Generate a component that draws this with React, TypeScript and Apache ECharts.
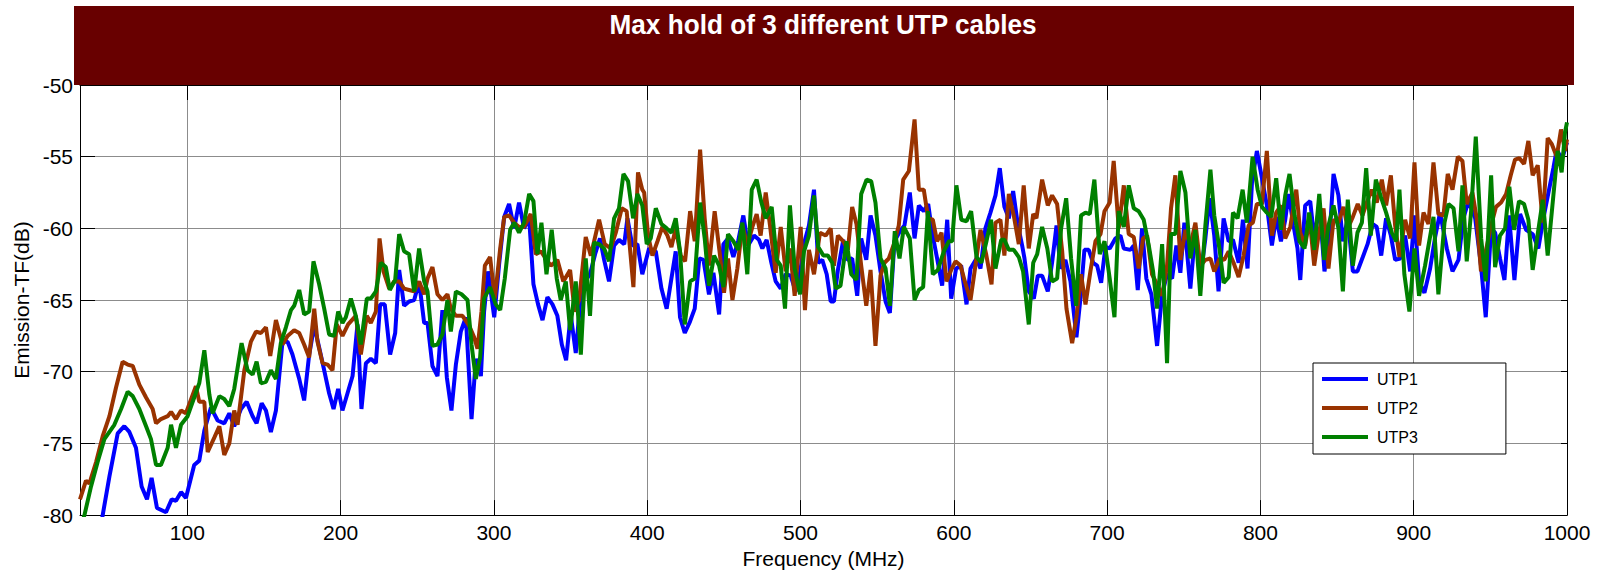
import React, { useEffect, useRef } from "react";
import * as echarts from "echarts";

// ---- Data (frequency MHz, emission dB) ----
const seriesNames = ["UTP1", "UTP2", "UTP3"];
const seriesColors = ["#0000ff", "#993300", "#008000"];

const utp1Points = [
  [43, -81.2], [44.8, -80], [49.2, -77.3], [54.6, -74.3], [58.9, -73.8], [62.2, -74.2], [66.5, -75.3], [70.2, -78.0],
  [73.7, -78.9], [76.7, -77.4], [80.2, -79.5], [86.1, -79.8], [89.8, -78.9], [92.6, -79.0], [95.9, -78.4], [99.1, -78.8],
  [104.5, -76.5], [107.8, -76.2], [111.1, -74.1], [115.4, -72.5], [119.8, -73.4], [124.1, -73.6], [127.4, -72.9], [130.6, -73.8],
  [135.0, -72.6], [138.7, -72.1], [142.6, -73.1], [145.2, -73.6], [148.5, -72.2], [151.3, -72.7], [154.5, -74.2], [157.8, -72.7],
  [162.1, -67.9], [165.4, -67.9], [168.6, -68.8], [173.0, -70.5], [176.2, -72.0], [179.5, -68.8], [182.8, -66.8], [186.0, -68.3],
  [189.3, -69.9], [192.5, -71.5], [195.4, -72.6], [198.4, -71.2], [201.2, -72.7], [204.5, -71.5], [207.8, -70.3], [211.0, -66.7],
  [213.6, -72.6], [216.5, -69.4], [219.7, -69.1], [223.0, -69.4], [225.8, -65.3], [228.8, -65.3], [232.3, -68.8], [235.6, -67.3],
  [238.2, -62.9], [241.4, -65.4], [244.7, -65.1], [248.0, -65.0], [251.2, -63.7], [254.5, -66.6], [256.7, -66.6], [259.9, -69.6],
  [263.2, -70.3], [266.4, -65.7], [269.3, -70.4], [272.3, -72.7], [275.2, -69.5], [278.4, -67.2], [281.7, -66.2], [285.4, -73.3],
  [288.2, -69.1], [291.5, -70.3], [293.6, -65.8], [296.2, -63.0], [300.2, -66.2], [303.4, -62.5], [306.7, -59.2], [309.9, -58.3],
  [313.2, -60.0], [316.4, -58.2], [319.7, -60.0], [323.0, -59.3], [325.8, -63.9], [328.8, -65.3], [331.7, -66.4], [334.9, -64.8],
  [338.2, -65.3], [341.4, -66.1], [344.3, -68.1], [347.1, -69.2], [350.1, -66.0], [353.4, -68.7], [356.2, -65.3], [359.3, -63.7],
  [362.7, -63.2], [366.0, -61.8], [369.2, -60.7], [371.9, -62.2], [375.1, -63.7], [378.4, -61.2], [381.6, -60.8], [385.0, -61.1],
  [387.1, -59.3], [390.3, -61.2], [393.6, -61.1], [396.8, -63.2], [401.2, -61.4], [405.6, -61.6], [409.3, -64.2], [412.7, -65.6],
  [415.8, -63.5], [418.6, -61.6], [421.4, -66.2], [424.5, -67.3], [427.9, -66.5], [431.0, -65.6], [434.0, -62.1], [436.7, -62.2],
  [440.3, -64.6], [443.2, -63.1], [446.9, -66.0], [449.7, -61.1], [452.7, -60.7], [456.2, -62.0], [459.3, -60.9], [462.7, -59.1],
  [465.8, -61.2], [469.7, -60.5], [472.9, -60.8], [475.1, -61.4], [477.9, -60.8], [481.0, -62.4], [483.8, -63.7], [487.1, -64.2],
  [490.3, -63.2], [493.6, -63.3], [496.8, -64.4], [499.7, -63.1], [502.7, -60.9], [505.5, -59.8], [508.8, -57.3], [511.6, -62.4],
  [514.2, -62.2], [517.1, -63.2], [519.7, -65.1], [521.8, -65.1], [524.4, -62.9], [527.9, -60.8], [530.5, -62.2], [533.7, -62.1],
  [537.0, -64.7], [539.6, -60.7], [542.9, -62.2], [545.7, -59.1], [548.9, -60.5], [552.2, -63.0], [555.5, -65.1], [558.3, -65.9],
  [561.3, -60.9], [564.8, -60.2], [567.8, -59.8], [571.3, -57.5], [574.4, -60.7], [577.2, -58.4], [580.4, -58.8], [583.3, -58.3],
  [585.9, -60.3], [589.1, -62.1], [592.4, -64.0], [595.7, -59.4], [598.3, -64.9], [601.5, -62.8], [604.8, -62.6], [608.3, -65.3],
  [610.9, -62.8], [614.8, -62.1], [617.4, -62.8], [620.6, -60.0], [623.9, -58.9], [627.2, -57.7], [630.0, -55.8], [633.0, -58.5],
  [635.9, -59.3], [638.7, -57.4], [641.7, -59.7], [644.6, -61.2], [646.1, -62.1], [648.9, -64.4], [652.2, -64.9], [654.8, -63.3],
  [657.6, -63.3], [661.3, -64.4], [664.1, -62.4], [667.0, -59.8], [669.6, -62.8], [672.8, -62.2], [676.1, -63.7], [680.0, -67.6],
  [682.6, -64.9], [685.2, -61.5], [688.0, -61.5], [690.9, -62.4], [693.5, -62.6], [696.1, -63.8], [698.9, -61.3], [701.7, -61.4],
  [705.4, -60.7], [708.7, -60.5], [710.9, -61.4], [715.2, -61.5], [717.4, -61.2], [720.0, -64.3], [722.8, -60.0], [725.6, -63.5],
  [728.9, -64.6], [732.6, -68.2], [735.9, -64.6], [739.1, -63.2], [742.4, -63.5], [745.2, -61.2], [747.8, -63.1], [750.4, -59.6],
  [754.3, -64.2], [757.6, -60.1], [760.8, -63.5], [764.1, -60.7], [766.9, -57.9], [769.9, -60.5], [772.7, -64.4], [776.0, -59.3],
  [779.3, -60.9], [782.1, -60.8], [785.8, -62.4], [788.6, -59.4], [791.6, -62.8], [794.5, -56.8], [797.7, -54.6], [801.0, -56.5],
  [804.2, -58.4], [807.5, -61.2], [810.3, -59.2], [813.4, -60.9], [816.2, -59.4], [818.4, -57.6], [821.6, -59.8], [824.2, -61.4],
  [826.0, -63.6], [829.2, -58.4], [832.5, -58.1], [835.1, -60.7], [838.6, -58.4], [841.8, -63.0], [844.9, -60.9], [847.7, -56.2],
  [850.9, -57.7], [853.8, -60.9], [857.0, -59.3], [860.3, -63.0], [863.3, -63.0], [866.8, -62.0], [869.9, -61.1], [873.3, -59.7],
  [875.9, -59.9], [878.8, -61.9], [882.0, -59.3], [885.1, -60.5], [887.9, -62.2], [891.2, -62.1], [894.4, -60.5], [897.7, -63.0],
  [900.5, -59.1], [903.5, -63.7], [907.0, -64.5], [910.7, -62.8], [914.0, -60.6], [917.2, -58.9], [921.6, -61.4], [925.3, -63.0],
  [929.2, -62.2], [932.4, -59.3], [935.7, -58.1], [940.1, -59.3], [943.9, -62.6], [947.0, -66.2], [950.5, -60.0], [953.1, -60.3],
  [956.3, -62.1], [959.2, -63.6], [962.2, -59.1], [965.7, -63.6], [969.4, -59.0], [973.3, -60.1], [977.6, -60.4], [981.3, -61.4],
  [984.6, -59.3], [987.9, -57.5], [991.1, -55.8], [993.3, -54.5], [996.6, -55.2], [1000, -54.0],
];

const utp2Points = [
  [30, -78.9], [33.9, -77.6], [36.1, -77.8], [40.5, -76.3], [44.8, -74.5], [49.2, -73.1], [53.5, -71.1], [57.8, -69.3],
  [61.1, -69.5], [64.4, -69.6], [68.7, -70.9], [73.1, -71.8], [77.4, -72.6], [79.6, -73.6], [82.8, -73.3], [87.2, -73.1],
  [89.4, -72.8], [92.6, -73.3], [95.9, -72.7], [99.1, -72.9], [105.6, -71.0], [107.8, -72.1], [111.1, -72.1], [113.3, -75.6],
  [117.6, -74.6], [120.9, -73.8], [124.1, -75.8], [127.4, -75.0], [130.6, -72.7], [132.8, -73.7], [137.2, -69.9], [141.5, -67.9],
  [144.8, -67.2], [148.0, -67.3], [151.3, -66.9], [154.1, -68.9], [157.8, -66.4], [162.1, -68.1], [165.4, -67.5], [169.7, -67.1],
  [173.0, -67.3], [176.2, -68.1], [179.5, -69.0], [182.8, -65.6], [184.9, -67.9], [188.2, -69.4], [191.5, -69.5], [194.7, -69.9],
  [197.5, -66.7], [201.2, -67.5], [204.9, -66.7], [209.9, -66.1], [213.2, -68.8], [217.1, -66.1], [219.7, -66.6], [223.0, -65.8],
  [225.4, -60.7], [228.0, -63.0], [231.7, -64.2], [234.9, -63.7], [238.2, -63.7], [241.4, -64.2], [244.7, -64.3], [248.0, -64.4],
  [251.2, -63.7], [254.5, -64.6], [256.7, -63.5], [259.9, -62.7], [263.2, -64.6], [266.4, -65.0], [269.7, -64.6], [271.9, -65.6],
  [275.2, -66.1], [279.5, -66.1], [283.9, -66.8], [287.1, -67.6], [289.3, -68.4], [291.9, -65.8], [294.1, -62.6], [297.5, -62.0],
  [300.6, -64.9], [304.1, -61.4], [306.7, -59.2], [309.9, -59.1], [313.2, -59.6], [316.4, -59.9], [319.7, -59.9], [324.0, -59.0],
  [327.3, -61.8], [330.6, -61.6], [333.8, -62.1], [337.1, -62.6], [341.4, -62.2], [345.3, -63.7], [349.7, -62.9], [352.7, -65.8],
  [355.6, -65.0], [359.9, -60.6], [363.2, -61.9], [368.6, -59.4], [372.3, -61.1], [376.2, -61.4], [379.5, -60.3], [383.4, -58.6],
  [386.6, -58.8], [391.0, -64.1], [394.0, -56.1], [396.8, -57.3], [398.0, -57.5], [400.6, -60.5], [403.4, -61.9], [406.7, -60.9],
  [409.9, -59.9], [413.2, -60.5], [415.8, -61.3], [418.6, -60.0], [421.9, -61.9], [424.7, -62.3], [428.0, -58.8], [431.0, -60.9],
  [434.5, -54.5], [437.5, -59.3], [440.3, -62.6], [444.0, -58.8], [447.5, -61.9], [450.1, -64.5], [452.7, -62.1], [455.6, -65.0],
  [458.8, -62.8], [462.1, -59.8], [465.3, -61.2], [468.6, -59.9], [471.4, -59.0], [474.0, -60.5], [477.3, -57.5], [480.1, -59.8],
  [483.8, -63.1], [487.1, -59.9], [490.3, -63.0], [493.1, -61.4], [496.2, -64.7], [500.1, -59.9], [502.9, -65.7], [505.5, -61.5],
  [508.8, -63.2], [512.7, -60.3], [516.4, -60.5], [519.7, -60.0], [521.8, -62.6], [524.4, -60.5], [527.9, -60.9], [530.9, -61.5],
  [533.7, -58.5], [536.5, -59.7], [539.6, -62.6], [542.9, -65.4], [545.7, -62.9], [548.9, -68.2], [552.2, -63.3], [554.8, -62.4],
  [557.6, -62.1], [560.9, -61.1], [564.1, -59.8], [567.0, -56.6], [570.7, -56.0], [574.4, -52.4], [577.2, -57.3], [580.4, -57.3],
  [583.3, -59.3], [586.3, -59.4], [589.1, -60.9], [592.0, -60.3], [595.2, -63.7], [598.3, -62.9], [601.1, -62.3], [604.4, -62.6],
  [607.2, -63.7], [610.9, -65.0], [614.1, -62.6], [617.4, -60.1], [621.1, -61.8], [624.6, -63.9], [627.2, -59.6], [630.4, -59.4],
  [633.0, -61.9], [635.9, -57.6], [639.1, -59.1], [642.4, -61.1], [645.6, -57.0], [648.9, -61.4], [651.8, -59.0], [653.9, -59.3],
  [657.6, -56.6], [661.3, -58.4], [664.1, -57.7], [667.4, -58.3], [670.7, -61.6], [673.5, -65.6], [677.2, -68.0], [680.0, -66.2],
  [683.0, -63.2], [685.9, -65.3], [689.1, -63.0], [692.4, -60.9], [695.7, -60.4], [698.3, -58.8], [701.7, -58.2], [704.3, -55.3],
  [707.6, -60.0], [710.9, -57.0], [714.1, -60.4], [717.4, -60.6], [720.6, -62.8], [723.5, -60.7], [726.1, -60.5], [729.3, -63.2],
  [732.6, -63.9], [735.9, -64.7], [739.1, -62.6], [741.7, -58.6], [744.5, -56.3], [747.8, -62.2], [751.1, -60.1], [754.3, -61.2],
  [757.6, -59.6], [760.8, -62.6], [764.1, -62.2], [767.4, -62.1], [769.9, -63.0], [773.4, -62.1], [776.4, -62.2], [779.3, -61.6],
  [782.5, -62.4], [785.8, -63.4], [789.0, -61.9], [792.3, -59.8], [795.1, -59.6], [797.7, -58.3], [801.0, -58.3], [804.2, -54.6],
  [807.5, -60.5], [810.3, -58.9], [813.4, -58.4], [816.2, -60.7], [819.5, -59.9], [823.4, -57.3], [826.0, -60.3], [829.2, -61.2],
  [832.1, -59.3], [835.1, -62.6], [837.9, -60.5], [841.2, -58.6], [844.4, -62.8], [847.7, -59.4], [850.9, -59.6], [854.2, -58.5],
  [857.0, -60.0], [860.3, -59.2], [863.5, -58.3], [866.6, -59.1], [869.4, -58.2], [872.7, -57.3], [875.9, -58.2], [879.2, -56.6],
  [882.0, -58.4], [885.1, -56.3], [887.9, -59.8], [890.7, -62.0], [894.4, -59.4], [897.7, -60.7], [900.5, -55.4], [903.5, -61.2],
  [906.4, -58.9], [909.6, -59.7], [912.9, -55.4], [916.1, -59.0], [919.4, -59.1], [922.2, -56.2], [925.3, -57.3], [928.8, -55.0],
  [931.8, -55.3], [934.6, -58.3], [938.3, -57.5], [941.1, -59.3], [943.9, -63.0], [947.0, -61.6], [950.5, -59.8], [953.7, -58.5],
  [957.0, -58.2], [960.3, -57.6], [963.3, -56.3], [966.1, -55.2], [968.9, -55.1], [972.0, -55.5], [974.8, -53.9], [977.6, -56.3],
  [980.9, -55.6], [984.2, -59.6], [987.4, -53.7], [990.0, -54.1], [993.3, -55.0], [996.1, -53.1], [998.7, -54.6], [1000, -53.8],
];

const utp3Points = [
  [31, -80.6], [32.9, -80], [37.2, -78.0], [41.5, -76.3], [45.9, -74.7], [52.4, -73.7], [56.8, -72.6], [61.1, -71.4],
  [64.4, -71.7], [68.7, -72.6], [73.1, -73.8], [76.3, -74.7], [79.6, -76.5], [82.8, -76.5], [87.2, -75.3], [89.4, -73.7],
  [92.6, -75.3], [95.9, -73.7], [100.2, -73.1], [104.5, -71.8], [107.8, -70.8], [111.1, -68.5], [114.4, -71.6], [116.5, -72.9],
  [120.9, -71.7], [124.1, -71.9], [127.4, -72.4], [130.6, -71.2], [135.4, -68.0], [139.3, -69.9], [142.6, -70.2], [145.2, -69.3],
  [148.0, -70.8], [151.3, -70.7], [154.5, -69.9], [157.8, -70.5], [161.0, -68.0], [164.3, -66.9], [167.6, -65.7], [169.7, -65.4],
  [173.0, -64.3], [176.2, -66.0], [179.5, -65.8], [182.3, -62.3], [186.0, -63.9], [189.3, -65.6], [192.5, -67.4], [195.8, -67.5],
  [198.4, -65.8], [201.2, -66.6], [203.4, -66.2], [206.7, -64.9], [209.9, -66.1], [213.2, -68.1], [217.1, -64.9], [219.7, -64.9],
  [223.0, -64.4], [226.2, -62.4], [229.5, -62.7], [232.1, -64.3], [235.6, -63.6], [238.2, -60.4], [241.4, -61.6], [244.7, -61.8],
  [248.0, -64.4], [251.2, -61.4], [254.5, -63.7], [256.7, -64.4], [259.9, -68.2], [263.2, -68.1], [266.4, -67.4], [269.7, -65.0],
  [271.9, -67.2], [275.2, -64.4], [278.9, -64.6], [282.8, -65.0], [285.4, -68.1], [288.2, -70.5], [291.0, -69.0], [293.6, -64.9],
  [297.5, -64.1], [301.2, -65.3], [304.1, -65.7], [307.1, -63.5], [310.6, -60.1], [313.2, -59.6], [316.4, -60.3], [319.7, -59.6],
  [323.0, -57.6], [325.8, -58.1], [328.4, -61.8], [331.0, -59.6], [334.3, -63.2], [337.7, -60.1], [341.0, -63.5], [343.6, -65.0],
  [346.9, -63.7], [349.7, -67.1], [353.4, -63.7], [356.7, -68.8], [359.9, -62.1], [362.7, -66.1], [365.3, -61.0], [368.6, -61.1],
  [371.9, -61.4], [375.1, -62.3], [378.4, -59.3], [381.6, -58.6], [384.5, -56.2], [387.5, -56.7], [390.8, -59.3], [393.6, -57.6],
  [396.8, -58.4], [399.7, -61.1], [402.3, -60.7], [405.6, -58.6], [409.3, -59.7], [412.7, -60.0], [415.8, -60.3], [418.6, -59.3],
  [421.4, -61.6], [424.5, -66.7], [428.0, -63.7], [431.0, -63.5], [434.5, -58.2], [437.5, -60.7], [440.3, -64.0], [443.6, -61.9],
  [446.9, -62.6], [449.7, -64.1], [452.7, -60.4], [456.2, -60.9], [459.3, -61.5], [462.1, -59.6], [465.3, -63.2], [468.2, -57.3],
  [471.4, -56.6], [474.5, -58.2], [477.3, -59.3], [481.2, -58.5], [484.5, -62.2], [487.1, -62.6], [489.9, -65.6], [493.1, -58.4],
  [496.2, -62.8], [499.7, -64.6], [502.3, -61.6], [505.5, -60.5], [508.8, -57.7], [511.6, -61.3], [514.9, -61.9], [517.9, -61.9],
  [520.7, -62.4], [522.9, -64.2], [526.1, -64.0], [530.0, -60.9], [533.1, -63.2], [536.5, -63.6], [539.6, -57.6], [543.1, -56.6],
  [546.1, -56.7], [548.9, -58.2], [552.2, -62.1], [555.5, -62.8], [558.3, -65.4], [561.5, -60.2], [564.6, -62.1], [567.4, -59.9],
  [571.3, -60.7], [574.4, -65.0], [577.2, -64.3], [580.0, -64.1], [583.1, -58.8], [586.3, -63.2], [589.6, -62.9], [593.5, -61.6],
  [596.7, -60.9], [598.9, -60.9], [601.7, -57.0], [604.9, -59.4], [608.3, -59.5], [611.3, -58.8], [614.8, -62.0], [618.0, -62.4],
  [621.3, -60.9], [624.3, -59.4], [627.2, -62.8], [630.9, -60.8], [633.0, -60.8], [635.9, -61.5], [639.1, -61.5], [642.4, -62.0],
  [645.2, -63.0], [648.9, -66.7], [651.8, -62.4], [654.4, -61.8], [657.6, -59.9], [661.0, -61.4], [664.1, -63.7], [667.4, -63.5],
  [670.0, -60.0], [673.3, -57.9], [676.5, -62.1], [679.8, -65.4], [683.0, -59.1], [685.9, -58.9], [688.7, -59.0], [691.7, -56.6],
  [695.2, -61.8], [698.3, -60.9], [701.7, -63.5], [704.8, -66.2], [707.6, -58.8], [710.9, -59.9], [714.1, -57.0], [717.4, -58.6],
  [720.6, -58.8], [723.9, -59.4], [727.2, -61.2], [730.0, -63.0], [732.6, -65.6], [735.9, -61.1], [739.1, -69.4], [741.7, -60.4],
  [744.5, -60.4], [747.8, -56.0], [751.1, -57.5], [754.3, -62.1], [757.6, -60.1], [760.8, -64.7], [764.1, -59.8], [767.4, -55.9],
  [769.9, -59.1], [773.4, -61.5], [776.0, -63.8], [779.3, -63.4], [782.1, -58.9], [785.1, -59.3], [788.4, -57.3], [791.2, -59.6],
  [794.9, -55.0], [798.2, -57.3], [801.0, -58.5], [804.2, -58.9], [807.1, -59.2], [810.3, -56.5], [813.4, -60.1], [816.2, -57.7],
  [819.0, -56.2], [822.3, -59.1], [825.5, -60.9], [828.8, -61.4], [831.8, -58.9], [835.1, -61.5], [838.4, -57.6], [841.6, -62.2],
  [844.4, -59.8], [847.7, -58.4], [850.9, -60.0], [853.8, -64.4], [857.0, -58.0], [860.3, -62.6], [863.3, -60.3], [866.2, -59.6],
  [869.0, -55.8], [872.0, -60.5], [875.3, -56.6], [878.6, -57.8], [882.0, -58.9], [885.7, -60.3], [888.6, -60.9], [890.7, -57.3],
  [893.9, -63.2], [897.2, -65.8], [900.5, -61.4], [903.5, -64.7], [907.4, -62.6], [912.9, -59.2], [916.1, -64.6], [920.1, -59.6],
  [922.7, -58.3], [926.0, -58.6], [929.2, -61.6], [931.8, -57.0], [934.6, -62.3], [937.4, -58.9], [940.5, -53.6], [944.0, -60.7],
  [947.0, -63.7], [950.5, -56.3], [953.1, -62.7], [956.3, -60.5], [959.6, -60.0], [962.4, -57.1], [965.5, -60.1], [968.7, -58.1],
  [972.0, -58.3], [974.8, -59.4], [977.6, -62.9], [980.9, -60.4], [984.2, -58.0], [987.4, -61.9], [990.5, -58.4], [993.9, -54.6],
  [996.5, -56.1], [998.7, -53.3], [1000, -52.6],
];

const allSeries = [utp1Points, utp2Points, utp3Points];

const xMin = 30;
const xMax = 1000;
const yMin = -80;
const yMax = -50;
const yStep = 5;

const titleText = "Max hold of 3 different UTP cables";
const xName = "Frequency (MHz)";
const yName = "Emission-TF(dB)";

const FONT = "'Liberation Sans', Arial, sans-serif";

export default function App() {
  const ref = useRef<HTMLDivElement>(null);

  useEffect(() => {
    if (!ref.current) return;
    const chart = echarts.init(ref.current, undefined, { renderer: "svg" });

    const gridColor = "#8c8c8c";
    const axisCommon = {
      axisLine: { show: true, lineStyle: { color: "#000", width: 1 } },
    };
    const plainNumber = (v: number) => String(v);

    const option: any = {
      animation: false,
      backgroundColor: "#ffffff",
      grid: { left: 80, right: 36, top: 85, bottom: 55, containLabel: false },
      graphic: [
        {
          type: "rect",
          shape: { x: 74, y: 6, width: 1500, height: 79 },
          style: { fill: "#680000" },
          z: 100,
          silent: true,
        },
        {
          type: "text",
          x: 823,
          y: 24,
          scaleX: 0.935,
          z: 101,
          style: {
            text: titleText,
            fill: "#ffffff",
            font: "bold 28px 'Liberation Sans', Arial, sans-serif",
            textAlign: "center",
            textVerticalAlign: "middle",
          },
          silent: true,
        },
      ],
      legend: {
        show: true,
        data: seriesNames,
        orient: "vertical",
        left: 1313,
        top: 363,
        backgroundColor: "#ffffff",
        borderColor: "#000000",
        borderWidth: 1,
        borderRadius: 0,
        padding: [8, 88, 9, 9],
        itemWidth: 46,
        itemHeight: 4,
        itemGap: 13,
        icon: "rect",
        selectedMode: false,
        textStyle: { fontSize: 16, fontFamily: FONT, color: "#000", padding: [2, 0, 0, 4] },
      },
      xAxis: [
        {
          type: "value",
          position: "bottom",
          min: xMin,
          max: xMax,
          splitNumber: 10,
          ...axisCommon,
          axisTick: { show: true, inside: true, length: 15, lineStyle: { color: "#000" } },
          axisLabel: {
            show: true,
            showMinLabel: false,
            margin: 7,
            fontSize: 21,
            fontFamily: FONT,
            color: "#000",
            formatter: plainNumber,
          },
          splitLine: { show: true, lineStyle: { color: gridColor, width: 1 } },
          name: xName,
          nameLocation: "middle",
          nameGap: 31,
          nameTextStyle: { fontSize: 21, fontFamily: FONT, color: "#000" },
        },
        {
          type: "value",
          position: "top",
          min: xMin,
          max: xMax,
          splitNumber: 10,
          ...axisCommon,
          axisTick: { show: true, inside: true, length: 15, lineStyle: { color: "#000" } },
          axisLabel: { show: false },
          splitLine: { show: false },
        },
      ],
      yAxis: [
        {
          type: "value",
          position: "left",
          min: yMin,
          max: yMax,
          interval: yStep,
          ...axisCommon,
          axisTick: { show: true, inside: true, length: 15, lineStyle: { color: "#000" } },
          axisLabel: { show: true, margin: 7, fontSize: 21, fontFamily: FONT, color: "#000", formatter: plainNumber },
          splitLine: { show: true, lineStyle: { color: gridColor, width: 1 } },
          name: yName,
          nameLocation: "middle",
          nameGap: 47,
          nameRotate: 90,
          nameTextStyle: { fontSize: 21, fontFamily: FONT, color: "#000" },
        },
        {
          type: "value",
          position: "right",
          min: yMin,
          max: yMax,
          interval: yStep,
          ...axisCommon,
          axisTick: { show: true, inside: true, length: 6, lineStyle: { color: "#000" } },
          axisLabel: { show: false },
          splitLine: { show: false },
        },
      ],
      series: allSeries.map((pts, i) => ({
        name: seriesNames[i],
        type: "line",
        xAxisIndex: 0,
        yAxisIndex: 0,
        data: pts,
        showSymbol: false,
        symbol: "none",
        clip: true,
        color: seriesColors[i],
        lineStyle: { color: seriesColors[i], width: 4 },
        z: 2 + i,
      })),
    };

    chart.setOption(option);
    return () => {
      chart.dispose();
    };
  }, []);

  return (
    <div
      ref={ref}
      style={{ position: "fixed", left: 0, top: 0, width: 1603, height: 574, background: "#fff" }}
    />
  );
}
